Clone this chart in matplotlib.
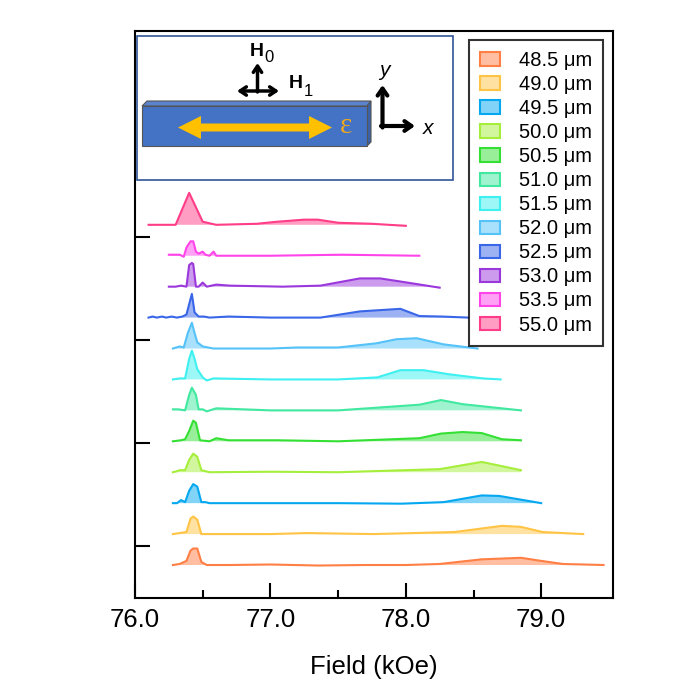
import matplotlib
matplotlib.use("Agg")
import matplotlib.pyplot as plt
from matplotlib.patches import Patch, Polygon, Rectangle
from matplotlib.ticker import FixedLocator
from matplotlib.colors import to_rgba

plt.rcParams['font.family'] = ['Liberation Sans', 'DejaVu Sans']

# sample thickness labels and colours (bottom trace first)
labels = ["48.5 μm", "49.0 μm", "49.5 μm", "50.0 μm", "50.5 μm", "51.0 μm",
          "51.5 μm", "52.0 μm", "52.5 μm", "53.0 μm", "53.5 μm", "55.0 μm"]
colors = ["#ff7f45", "#ffc445", "#05a8f0", "#a6ee3c", "#35e035", "#40e8a0",
          "#3ff0f0", "#55c2f8", "#3a66e8", "#9a38dc", "#ff45ea", "#ff3d88"]

# field (kOe) and signal (a.u.)
f485 = [76.28, 76.33, 76.38, 76.41, 76.43, 76.46, 76.49, 76.53, 76.70, 77.00, 77.35, 77.70, 78.00, 78.25, 78.56, 78.85, 79.00, 79.16, 79.46]
a485 = [0.0, 0.01, 0.04, 0.14, 0.16, 0.16, 0.03, 0.0, 0.0, 0.005, -0.005, 0.0, 0.0, 0.01, 0.055, 0.07, 0.04, 0.01, 0.0]

f490 = [76.28, 76.38, 76.41, 76.43, 76.46, 76.49, 76.60, 77.00, 77.27, 77.76, 78.36, 78.71, 78.85, 79.01, 79.31]
a490 = [0.0, 0.02, 0.15, 0.17, 0.14, 0.0, 0.0, 0.0, 0.01, 0.0, 0.02, 0.08, 0.07, 0.02, 0.0]

f495 = [76.28, 76.31, 76.34, 76.37, 76.40, 76.43, 76.46, 76.49, 76.52, 76.55, 77.00, 77.50, 77.97, 78.28, 78.56, 78.69, 79.00]
a495 = [0.0, 0.0, 0.03, 0.01, 0.12, 0.185, 0.16, 0.01, 0.01, 0.0, 0.0, 0.0, -0.005, 0.01, 0.075, 0.07, 0.0]

f500 = [76.28, 76.31, 76.33, 76.37, 76.40, 76.43, 76.46, 76.49, 76.52, 76.55, 77.00, 77.50, 78.25, 78.56, 78.85]
a500 = [0.0, 0.01, 0.02, 0.02, 0.12, 0.18, 0.15, 0.02, 0.01, 0.0, 0.005, 0.0, 0.03, 0.10, 0.02]

f505 = [76.28, 76.34, 76.37, 76.40, 76.43, 76.45, 76.48, 76.55, 76.60, 76.69, 77.05, 77.50, 78.10, 78.26, 78.42, 78.56, 78.71, 78.85]
a505 = [0.0, 0.01, 0.02, 0.10, 0.20, 0.18, 0.01, 0.0, 0.03, 0.01, 0.01, 0.0, 0.03, 0.075, 0.09, 0.08, 0.02, 0.01]

f510 = [76.28, 76.32, 76.37, 76.40, 76.42, 76.45, 76.47, 76.50, 76.53, 76.60, 76.80, 77.00, 77.50, 78.10, 78.26, 78.42, 78.85]
a510 = [0.01, 0.01, 0.0, 0.15, 0.22, 0.15, 0.01, 0.01, -0.01, 0.02, 0.01, 0.0, 0.0, 0.055, 0.10, 0.06, 0.0]

f515 = [76.28, 76.33, 76.37, 76.40, 76.42, 76.44, 76.46, 76.50, 76.53, 76.58, 77.00, 77.50, 77.79, 77.96, 78.13, 78.32, 78.57, 78.70]
a515 = [0.0, 0.01, 0.01, 0.20, 0.28, 0.20, 0.10, 0.02, -0.01, 0.01, 0.0, 0.0, 0.02, 0.09, 0.09, 0.05, 0.01, 0.0]

f520 = [76.28, 76.33, 76.36, 76.39, 76.42, 76.44, 76.46, 76.50, 76.58, 77.00, 77.20, 77.50, 77.78, 77.93, 78.08, 78.28, 78.53]
a520 = [0.0, 0.02, 0.01, 0.15, 0.25, 0.15, 0.06, 0.02, 0.0, 0.0, 0.01, 0.01, 0.05, 0.09, 0.10, 0.04, 0.0]

f525 = [76.10, 76.13, 76.16, 76.20, 76.23, 76.27, 76.31, 76.35, 76.38, 76.42, 76.44, 76.47, 76.51, 76.55, 76.69, 77.00, 77.37, 77.66, 77.96, 78.10, 78.27, 78.46]
a525 = [0.0, 0.01, 0.0, 0.01, 0.0, 0.01, 0.0, 0.01, 0.03, 0.23, 0.05, 0.01, 0.01, 0.0, 0.01, 0.0, 0.0, 0.06, 0.085, 0.015, 0.01, 0.0]

f530 = [76.25, 76.30, 76.34, 76.38, 76.40, 76.42, 76.43, 76.45, 76.47, 76.50, 76.53, 76.60, 76.70, 77.09, 77.37, 77.66, 77.81, 77.96, 78.25]
a530 = [0.0, 0.0, 0.01, 0.0, 0.21, 0.23, 0.22, 0.0, 0.0, 0.04, 0.0, 0.02, 0.01, 0.0, 0.01, 0.08, 0.08, 0.05, -0.01]

f535 = [76.25, 76.33, 76.36, 76.38, 76.41, 76.43, 76.45, 76.47, 76.50, 76.52, 76.55, 76.58, 76.60, 77.00, 77.53, 78.10]
a535 = [0.01, 0.01, -0.01, 0.08, 0.14, 0.14, 0.04, 0.02, 0.04, 0.01, 0.0, 0.04, 0.0, 0.0, 0.01, 0.0]

f550 = [76.10, 76.30, 76.40, 76.50, 76.60, 76.90, 77.05, 77.25, 77.35, 77.50, 77.75, 78.00]
a550 = [0.0, 0.0, 0.31, 0.03, 0.0, 0.01, 0.03, 0.05, 0.05, 0.02, 0.01, -0.01]

fields = [f485, f490, f495, f500, f505, f510, f515, f520, f525, f530, f535, f550]
amps = [a485, a490, a495, a500, a505, a510, a515, a520, a525, a530, a535, a550]

fig = plt.figure(figsize=(6.74, 6.88), dpi=100)
ax = fig.add_axes([135 / 674, 1 - 598 / 688, 478 / 674, 567 / 688])

# stacked traces, each shifted up by 0.3
handles = []
for i in range(len(labels)):
    base = -0.18 + 0.3 * i
    y = [base + a for a in amps[i]]
    ax.fill_between(fields[i], base, y, facecolor=to_rgba(colors[i], 0.5), edgecolor='none', zorder=2)
    ax.plot(fields[i], y, color=colors[i], lw=1.5, zorder=3)
    handles.append(Patch(facecolor=to_rgba(colors[i], 0.5), edgecolor=colors[i], lw=1.5, label=labels[i]))

ax.set_xlim(76.0, 79.53)
ax.set_ylim(-0.5, 5.0)
ax.set_xticks([76, 77, 78, 79])
ax.set_xticklabels(["76.0", "77.0", "78.0", "79.0"])
ax.xaxis.set_minor_locator(FixedLocator([76.5, 77.5, 78.5]))
ax.set_yticks([0, 1, 2, 3])
ax.set_yticklabels([])
ax.tick_params(axis='both', which='major', direction='in', length=11, width=1.5, labelsize=18.5, pad=7)
ax.tick_params(axis='x', which='minor', direction='in', length=6, width=1.5)
for s in ax.spines.values():
    s.set_linewidth(1.5)
ax.set_xlabel("Field (kOe)", fontsize=18.5, labelpad=17)

leg = ax.legend(handles=handles, loc='upper right', bbox_to_anchor=(0.979, 0.984), borderaxespad=0,
                fontsize=14.5, frameon=True, fancybox=False, edgecolor='black',
                handlelength=0.95, handleheight=0.65, handletextpad=0.95, labelspacing=0.25,
                borderpad=0.55)
leg.get_frame().set_linewidth(1.5)

# schematic inset drawn in pixel coordinates on top of the plot
ov = fig.add_axes([0, 0, 1, 1])
ov.set_xlim(0, 674)
ov.set_ylim(688, 0)
ov.axis('off')
ov.patch.set_visible(False)

ov.add_patch(Rectangle((137, 36), 316, 144, facecolor='white', edgecolor='#2f5597', lw=1.2))
ov.add_patch(Polygon([(142, 106), (147, 101), (371, 101), (367, 106)], closed=True,
                     facecolor='#5b84cf', edgecolor='#555555', lw=0.8))
ov.add_patch(Polygon([(367, 106), (371, 101), (371, 142), (367, 146)], closed=True,
                     facecolor='#3a62a8', edgecolor='#555555', lw=0.8))
ov.add_patch(Rectangle((142, 106), 225, 40, facecolor='#4472c4', edgecolor='#555555', lw=0.8))
ov.add_patch(Polygon([(178, 127.5), (201, 116), (201, 123.5), (309, 123.5), (309, 116), (332, 127.5),
                      (309, 139), (309, 131.5), (201, 131.5), (201, 139)], closed=True,
                     facecolor='#ffc000', edgecolor='none'))
ov.text(346, 126, "ε", fontsize=21, color='#f0a81c', family=['Liberation Serif', 'DejaVu Serif'],
        ha='center', va='center')

arrow_kw = dict(arrowstyle='->, head_length=0.45, head_width=0.3', lw=2.5, color='black',
                shrinkA=0, shrinkB=0)
ov.annotate('', xy=(257.5, 63), xytext=(257.5, 92), arrowprops=arrow_kw)
ov.annotate('', xy=(279, 91), xytext=(237, 91),
            arrowprops=dict(arrowstyle='<->, head_length=0.45, head_width=0.3', lw=2.5, color='black',
                            shrinkA=0, shrinkB=0))
ov.annotate('', xy=(382.5, 85), xytext=(382.5, 127.5),
            arrowprops=dict(arrowstyle='->, head_length=0.5, head_width=0.35', lw=3, color='black',
                            shrinkA=0, shrinkB=0))
ov.annotate('', xy=(415, 126), xytext=(381, 126),
            arrowprops=dict(arrowstyle='->, head_length=0.5, head_width=0.35', lw=3, color='black',
                            shrinkA=0, shrinkB=0))

ov.text(250, 51, "H", fontsize=14, fontweight='bold', ha='left', va='center')
ov.text(264.5, 58, "0", fontsize=12, ha='left', va='center')
ov.text(289, 84, "H", fontsize=14, fontweight='bold', ha='left', va='center')
ov.text(303.5, 91, "1", fontsize=12, ha='left', va='center')
ov.text(384, 70, "y", fontsize=15, style='italic', ha='center', va='center')
ov.text(428, 129, "x", fontsize=15, style='italic', ha='center', va='center')

fig.savefig("out.png", dpi=100)
